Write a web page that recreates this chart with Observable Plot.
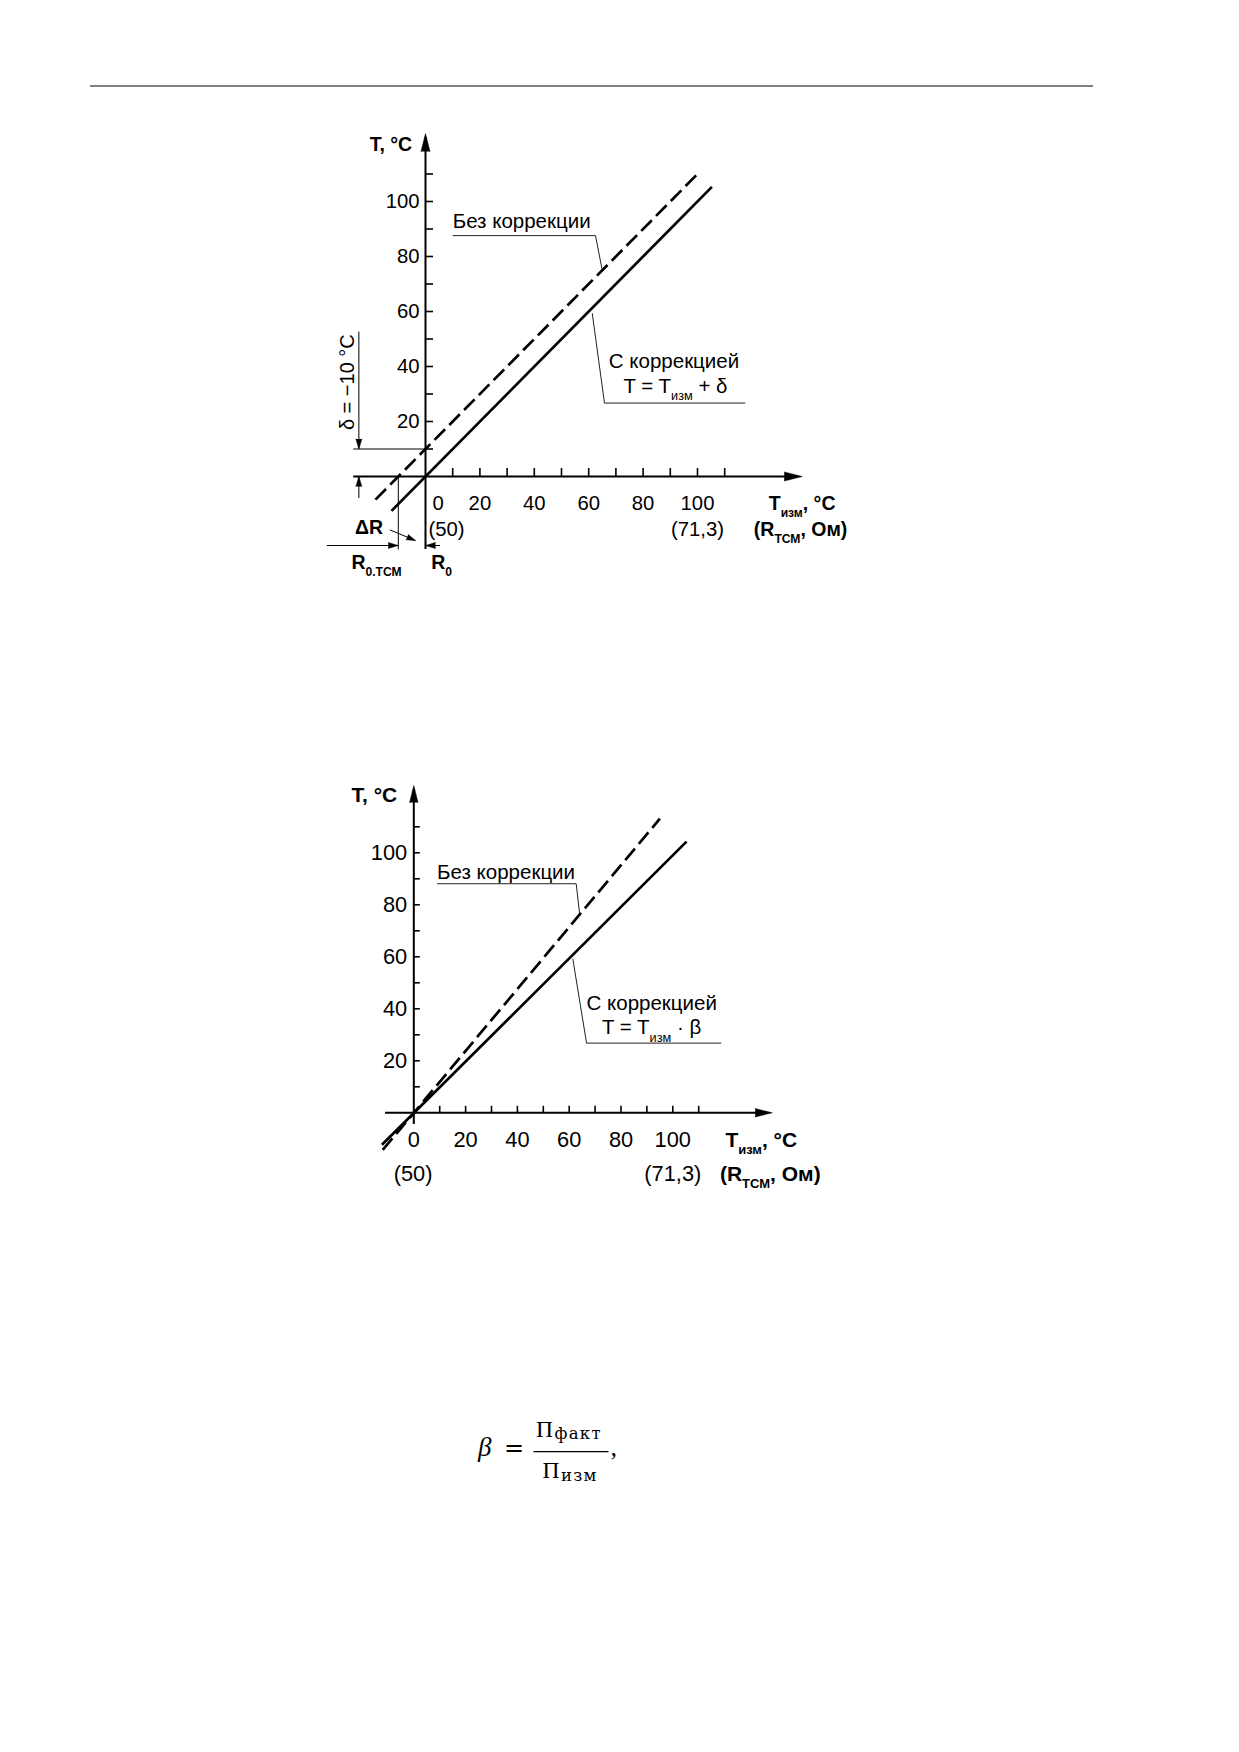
<!DOCTYPE html>
<html>
<head>
<meta charset="utf-8">
<script src="https://cdn.jsdelivr.net/npm/d3@7"></script>
<script src="https://cdn.jsdelivr.net/npm/@observablehq/plot@0.6"></script>
<style>
  html, body { margin: 0; padding: 0; background: #fff; }
  body { width: 1239px; height: 1752px; position: relative; overflow: hidden;
         font-family: "Liberation Sans", Arial, Helvetica, sans-serif; }
  #rule { position: absolute; left: 90px; top: 85px; width: 1003px; height: 2px; background: #808080; }
  #c1 { position: absolute; left: 0; top: 0; }
  #c2 { position: absolute; left: 0; top: 700px; }
  #formula { position: absolute; left: 0; top: 1400px; }
  svg { overflow: visible; }
</style>
</head>
<body>
<div id="rule"></div>
<div id="c1"></div>
<div id="c2"></div>
<svg id="formula" width="1239" height="100" xmlns="http://www.w3.org/2000/svg">
  <text x="478" y="56" font-family="'Liberation Serif', 'DejaVu Serif', serif" font-style="italic" font-size="27">β</text>
  <text x="504" y="56" font-family="'DejaVu Serif', 'Liberation Serif', serif" font-size="24">=</text>
  <line x1="533.5" x2="608.5" y1="51.7" y2="51.7" stroke="black" stroke-width="1.3"/>
  <text x="536" y="36.7" font-family="'Liberation Serif', 'DejaVu Serif', serif" font-size="23.5">Π</text>
  <text x="554.5" y="39" font-family="'DejaVu Serif', 'Liberation Serif', serif" font-size="16.5" letter-spacing="1.3">факт</text>
  <text x="542.5" y="78.3" font-family="'Liberation Serif', 'DejaVu Serif', serif" font-size="23.5">Π</text>
  <text x="561" y="80.5" font-family="'DejaVu Serif', 'Liberation Serif', serif" font-size="16.5" letter-spacing="1.3">изм</text>
  <text x="610.5" y="56" font-family="'Liberation Serif', 'DejaVu Serif', serif" font-size="26">,</text>
</svg>
<script>
// ================= DATA =================
// common axis ticks / labels
const xTicks = [10, 20, 30, 40, 50, 60, 70, 80, 90, 100, 110];
const yTicks = [10, 20, 30, 40, 50, 60, 70, 80, 90, 100, 110];
const xTickLabels = [0, 20, 40, 60, 80, 100];
const yTickLabels = [20, 40, 60, 80, 100];
const rTicks = [0, 100];                 // T at which resistance labels sit
const rTickLabels = ["(50)", "(71,3)"];  // R_ТСМ, Ом

// chart 1 : additive correction, δ = −10 °C
const delta = -10;
const corrected1X = [-12.5, 105.3];      // "С коррекцией" (solid)
const corrected1Y = [-12.5, 105.3];
const uncorrected1X = [-18.4, 99.6];     // "Без коррекции" (dashed)
const uncorrected1Y = [-8.4, 109.6];

// chart 2 : multiplicative correction, T = Tизм · β
const corrected2X = [-12.3, 105.3];
const corrected2Y = [-12.3, 104.3];
const uncorrected2X = [-12.0, 95.0];
const uncorrected2Y = [-14.3, 113.1];

// texts
const labelNoCorr = "Без коррекции";
const labelCorr = "С коррекцией";
const formula1 = "T = T_{изм} + δ";
const formula2 = "T = T_{изм} · β";
const yTitle = "T, °C";
const xTitle = "T_{изм}, °C";
const xTitle2 = "(R_{ТСМ}, Ом)";

// ================= HELPERS =================
const FONT = "'Liberation Sans', Arial, Helvetica, sans-serif";
const zip = (xs, ys) => xs.map((x, i) => ({x, y: ys[i]}));

function spike(pt, rotate, length, r) {
  return Plot.vector([pt], {x: "x", y: "y", rotate, length, r, shape: "spike",
    anchor: "end", fill: "black", stroke: "black", strokeWidth: 0.5});
}

function subscripts(svg) {
  d3.select(svg).selectAll("text").each(function () {
    const s = this.textContent;
    if (!s.includes("_{")) return;
    const fs = parseFloat(getComputedStyle(this).fontSize) || 19;
    const shift = +(fs * 0.36).toFixed(1);
    const subSize = +(fs * 0.62).toFixed(1);
    const el = d3.select(this);
    el.text(null);
    let prevSub = false;
    s.split(/(_\{[^}]*\})/).filter(p => p).forEach(p => {
      const sub = p.startsWith("_{");
      const ts = el.append("tspan").text(sub ? p.slice(2, -1) : p);
      if (sub) ts.attr("font-size", subSize).attr("dy", shift);
      else if (prevSub) ts.attr("dy", -shift);
      prevSub = sub;
    });
  });
}

function build(L, marks) {
  return Plot.plot({
    width: L.width, height: L.height, margin: 0,
    x: {type: "linear", domain: [-50, 150], range: [L.x0 - 50 * L.kx, L.x0 + 150 * L.kx], axis: null},
    y: {type: "linear", domain: [-40, 150], range: [L.y0 + 40 * L.ky, L.y0 - 150 * L.ky], axis: null},
    style: {fontFamily: FONT, fontSize: "19px", color: "black", background: "transparent", overflow: "visible"},
    marks
  });
}

function commonMarks(L) {
  const tY = L.tick / L.ky, tX = L.tick / L.kx;
  return [
    // axes
    Plot.ruleY([0], {x1: L.xAxis[0], x2: L.xAxis[1] - 4 / L.kx, stroke: "black", strokeWidth: 2}),
    spike({x: L.xAxis[1], y: 0}, 90, L.head, L.headR),
    Plot.ruleX([0], {y1: L.yAxis[0], y2: L.yAxis[1] - 4 / L.ky, stroke: "black", strokeWidth: 2}),
    spike({x: 0, y: L.yAxis[1]}, 0, L.head, L.headR),
    Plot.ruleX(xTicks, {y1: 0, y2: tY, stroke: "black", strokeWidth: 1.6}),
    Plot.ruleY(yTicks, {x1: 0, x2: tX, stroke: "black", strokeWidth: 1.6}),
    // tick labels
    Plot.text(yTickLabels, {x: 0, y: d => d, text: d => String(d), textAnchor: "end", dx: L.yLabDx, fontSize: L.fs}),
    Plot.text(xTickLabels.filter(d => d !== 0), {x: d => d, y: 0, text: d => String(d), dy: L.xLabDy, fontSize: L.fs}),
    Plot.text([xTickLabels[0]], {x: d => d, y: 0, text: d => String(d), dy: L.xLabDy, dx: L.zeroDx, fontSize: L.fs}),
    Plot.text([rTicks[0]], {x: d => d, y: 0, text: [rTickLabels[0]], dy: L.rLabDy, dx: L.r0Dx, fontSize: L.fs}),
    Plot.text([rTicks[1]], {x: d => d, y: 0, text: [rTickLabels[1]], dy: L.rLabDy, fontSize: L.fs}),
    // axis titles
    Plot.text([yTitle], {x: 0, y: L.yTitleY, text: d => d, textAnchor: "end", dx: L.yTitleDx, fontWeight: "bold", fontSize: L.tfs}),
    Plot.text([xTitle], {x: L.xT1[0], y: L.xT1[1], text: d => d, textAnchor: "start", fontWeight: "bold", fontSize: L.tfs}),
    Plot.text([xTitle2], {x: L.xT2[0], y: L.xT2[1], text: d => d, textAnchor: "start", fontWeight: "bold", fontSize: L.tfs}),
    // series labels with leader lines
    Plot.line(L.leadNo, {x: "x", y: "y", stroke: "#222", strokeWidth: 1, strokeLinecap: "butt"}),
    Plot.line(L.leadCorr, {x: "x", y: "y", stroke: "#222", strokeWidth: 1, strokeLinecap: "butt"}),
    Plot.text([labelNoCorr], {x: L.labNo[0], y: L.labNo[1], text: d => d, textAnchor: "start", fontSize: L.afs}),
    Plot.text([labelCorr], {x: L.labCorr[0], y: L.labCorr[1], text: d => d, textAnchor: "start", fontSize: L.afs}),
    Plot.text([L.formula], {x: L.labF[0], y: L.labF[1], text: d => d, textAnchor: "middle", fontSize: L.afs})
  ];
}

// ================= CHART 1 =================
const L1 = {
  width: 1239, height: 600, x0: 425, y0: 476, kx: 2.72, ky: 2.75,
  tick: 8, head: 18, headR: 4.5, fs: 20.3, tfs: 19.5, afs: 20.5,
  xAxis: [-26.4, 138.5], yAxis: [-26.5, 124.7],
  yLabDx: -6, xLabDy: 27.2, zeroDx: 12.7, rLabDy: 52.9, r0Dx: 21,
  yTitleY: 120.8, yTitleDx: -13.3,
  xT1: [126.2, -9.9], xT2: [120.7, -19.2],
  labNo: [10.0, 92.9], labCorr: [67.4, 42.0], labF: [91.9, 32.9],
  leadNo: [{x: 10.0, y: 87.6}, {x: 62.5, y: 87.6}, {x: 65.0, y: 74.9}],
  leadCorr: [{x: 61.3, y: 59.4}, {x: 65.8, y: 26.7}, {x: 117.6, y: 26.7}],
  formula: formula1
};
// dimension annotation geometry (chart 1)
const dimX = -24.5, dimTop = 52.5, dimBot = -8;
const hDimY = -25.1, hDimL = -36.1, hDimR = 5.5, leftEdge = -26.4;
const dR = {x1: -13.1, y1: -19.4, x2: -3.7, y2: -23.3};
const dRrot = Math.atan2((dR.x2 - dR.x1) * L1.kx, (dR.y2 - dR.y1) * L1.ky) * 180 / Math.PI;

const marks1 = [
  ...commonMarks(L1),
  // data lines
  Plot.line(zip(uncorrected1X, uncorrected1Y), {x: "x", y: "y", stroke: "black", strokeWidth: 2.7, strokeDasharray: "15,6", strokeLinecap: "butt"}),
  Plot.line(zip(corrected1X, corrected1Y), {x: "x", y: "y", stroke: "black", strokeWidth: 2.7, strokeLinecap: "butt"}),
  // δ dimension
  Plot.ruleY([-delta], {x1: leftEdge, x2: 0, stroke: "black", strokeWidth: 1}),
  Plot.ruleX([dimX], {y1: dimTop, y2: -delta, stroke: "black", strokeWidth: 1}),
  spike({x: dimX, y: -delta}, 180, 10, 3),
  Plot.ruleX([dimX], {y1: dimBot, y2: 0, stroke: "black", strokeWidth: 1}),
  spike({x: dimX, y: 0}, 0, 10, 3),
  Plot.text(["δ = −10 °C"], {x: -28.8, y: 34.3, text: d => d, rotate: -90, fontSize: 20}),
  // R0 / R0.ТСМ dimension
  Plot.ruleX([delta], {y1: 0, y2: -26.7, stroke: "black", strokeWidth: 1}),
  Plot.ruleY([hDimY], {x1: hDimL, x2: delta, stroke: "black", strokeWidth: 1}),
  spike({x: delta, y: hDimY}, 90, 10, 3),
  Plot.ruleY([hDimY], {x1: 0, x2: hDimR, stroke: "black", strokeWidth: 1}),
  spike({x: 0, y: hDimY}, 270, 10, 3),
  Plot.link([dR], {x1: "x1", y1: "y1", x2: "x2", y2: "y2", stroke: "black", strokeWidth: 1}),
  spike({x: dR.x2, y: dR.y2}, dRrot, 9, 2.8),
  Plot.text(["ΔR"], {x: -20.8, y: -18.7, text: d => d, fontWeight: "bold", fontSize: 19.5}),
  Plot.text(["R_{0.ТСМ}"], {x: -18, y: -31.2, text: d => d, fontWeight: "bold", fontSize: 19.5}),
  Plot.text(["R_{0}"], {x: 5.9, y: -31.2, text: d => d, fontWeight: "bold", fontSize: 19.5})
];

// ================= CHART 2 =================
const L2 = {
  width: 1239, height: 520, x0: 413.3, y0: 412.3, kx: 2.59, ky: 2.6,
  tick: 6.5, head: 17, headR: 4.2, fs: 21.8, tfs: 21, afs: 20.5,
  xAxis: [-10.9, 138.4], yAxis: [-4.5, 125.9],
  yLabDx: -6.6, xLabDy: 27.1, zeroDx: 0, rLabDy: 61, r0Dx: -0.8,
  yTitleY: 122, yTitleDx: -16.6,
  xT1: [120.3, -10.4], xT2: [118.2, -23.5],
  labNo: [9.0, 92.3], labCorr: [66.7, 42.1], labF: [91.8, 32.7],
  leadNo: [{x: 9.0, y: 88.1}, {x: 62.7, y: 88.1}, {x: 64.1, y: 75.9}],
  leadCorr: [{x: 61.4, y: 59.2}, {x: 66.7, y: 26.8}, {x: 118.7, y: 26.8}],
  formula: formula2
};
const marks2 = [
  ...commonMarks(L2),
  Plot.line(zip(uncorrected2X, uncorrected2Y), {x: "x", y: "y", stroke: "black", strokeWidth: 2.7, strokeDasharray: "15,6", strokeLinecap: "butt"}),
  Plot.line(zip(corrected2X, corrected2Y), {x: "x", y: "y", stroke: "black", strokeWidth: 2.7, strokeLinecap: "butt"})
];

const svg1 = build(L1, marks1);
document.getElementById("c1").appendChild(svg1);
subscripts(svg1);
const svg2 = build(L2, marks2);
document.getElementById("c2").appendChild(svg2);
subscripts(svg2);
</script>
</body>
</html>
